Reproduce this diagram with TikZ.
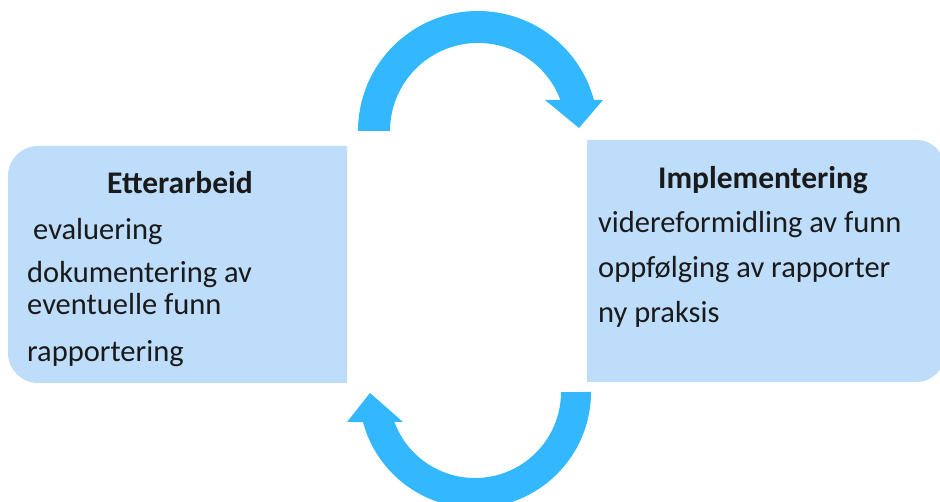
\documentclass[tikz,border=0pt]{standalone}
\usepackage{fontspec}
\setmainfont{Carlito}
\definecolor{boxblue}{HTML}{BDDDFB}
\definecolor{arrowblue}{HTML}{33B7FF}
\definecolor{ink}{HTML}{1A1A1A}
\begin{document}
\begin{tikzpicture}[x=1pt,y=1pt,
  label/.style={inner sep=0pt,anchor=base west,text=ink,font=\fontsize{30.5}{32}\selectfont},
  heading/.style={inner sep=0pt,anchor=base,text=ink,font=\fontsize{31.5}{32}\selectfont\bfseries},
  panel/.style={fill=boxblue},
  turn/.style={fill=arrowblue}]
\useasboundingbox (0,0) rectangle (940,502);
\clip (0,0) rectangle (940,502);
\fill[white] (0,0) rectangle (940,502);

% left panel, rounded on its outer side
\path[panel] (347,356) -- (38,356) arc[start angle=90,end angle=180,radius=30pt]
  -- (8,149) arc[start angle=180,end angle=270,radius=30pt] -- (347,119) -- cycle;
% right panel, rounded on its outer side
\path[panel] (587,362) -- (917,362) arc[start angle=90,end angle=0,radius=27pt]
  -- (944,147) arc[start angle=0,end angle=-90,radius=27pt] -- (587,120) -- cycle;

% upper curved arrow, left to right
\path[turn] (358,371) arc[start angle=180,end angle=15,radius=120pt]
  -- (603,402) -- (579,374) -- (545,402) -- (560.4,402)
  arc[start angle=20.6,end angle=180,radius=88pt] -- cycle;
% lower curved arrow, right to left
\path[turn] (591,110) arc[start angle=0,end angle=-165,radius=116pt]
  -- (347,80) -- (370,109) -- (403,80) -- (394.4,80)
  arc[start angle=-159.6,end angle=0,radius=86pt] -- cycle;

% left panel text
\node[heading] (etter) at (180,308) {Etterarbeid};
\node[label] (eval) at (33,262) {evaluering};
\node[label] (dok) at (27,219) {dokumentering av};
\node[label] (event) at (27,187) {eventuelle funn};
\node[label] (rapp) at (27,140) {rapportering};

% right panel text
\node[heading] (impl) at (763,313) {Implementering};
\node[label] (vid) at (598,269) {videreformidling av funn};
\node[label] (opp) at (598,224) {oppfølging av rapporter};
\node[label] (ny) at (598,179) {ny praksis};
\end{tikzpicture}
\end{document}
